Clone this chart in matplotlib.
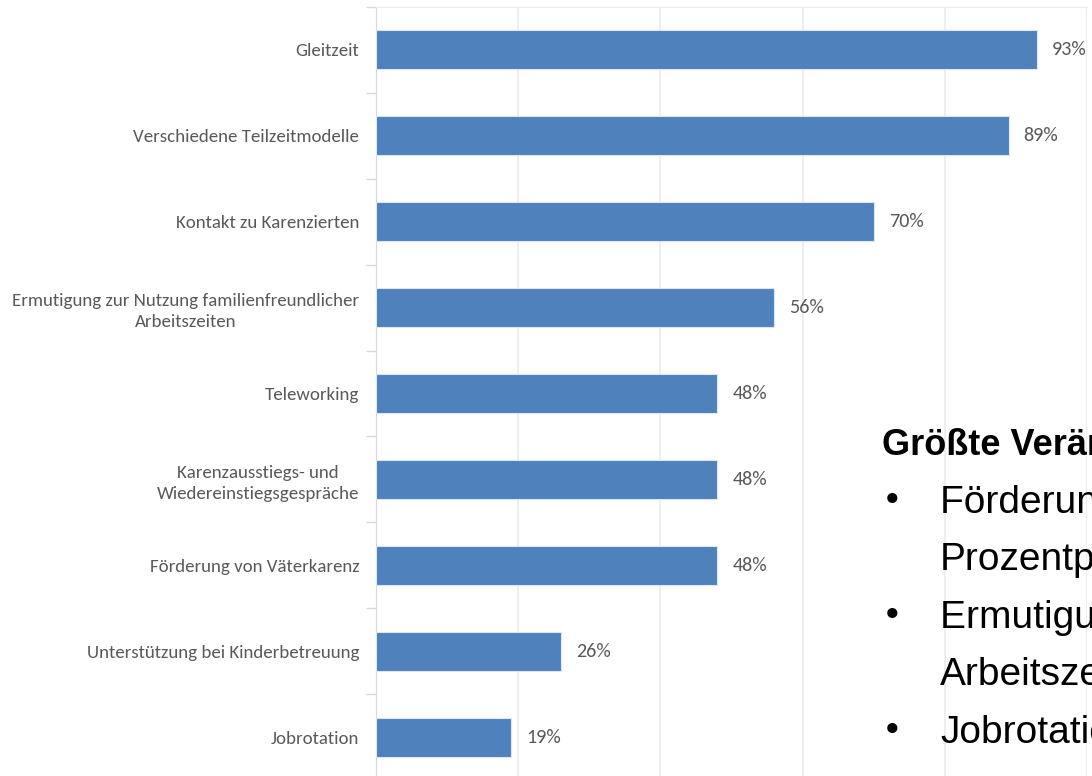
import matplotlib.pyplot as plt
import numpy as np

# Maßnahmen und Anteile (in %)
categories = [
    "Gleitzeit",
    "Verschiedene Teilzeitmodelle",
    "Kontakt zu Karenzierten",
    "Ermutigung zur Nutzung familienfreundlicher\nArbeitszeiten",
    "Teleworking",
    "Karenzausstiegs- und\nWiedereinstiegsgespräche",
    "Förderung von Väterkarenz",
    "Unterstützung bei Kinderbetreuung",
    "Jobrotation",
]
values = [93, 89, 70, 56, 48, 48, 48, 26, 19]

heading = "Größte Veränderungen"
lines = ["Förderung von Väterkarenz", "Prozentpunkte",
         "Ermutigung zur Nutzung", "Arbeitszeiten", "Jobrotation"]
bullet_rows = [0, 2, 4]

bar_color = "#4f81bd"
text_color = "#595959"
grid_color = "#ebebeb"
label_font = ["Carlito", "DejaVu Sans"]
note_font = ["Liberation Sans", "DejaVu Sans"]

fig = plt.figure(figsize=(10.92, 7.76), dpi=100)
ax = fig.add_axes([376 / 1092, -4 / 776, 711 / 1092, 773 / 776])

y = np.arange(len(categories))
ax.barh(y, values, height=0.455, color=bar_color, edgecolor="#dce6f2",
        linewidth=0.8, zorder=3)

for yi, v in zip(y, values):
    ax.text(v + 2.1, yi, f"{v}%", va="center", ha="left",
            fontsize=14.5, color=text_color, family=label_font)

ax.set_xlim(0, 100)
ax.set_ylim(len(categories) - 0.5, -0.5)
ax.set_xticks(np.arange(0, 101, 20))
ax.tick_params(axis="x", length=0, labelbottom=False)
ax.grid(axis="x", color=grid_color, linewidth=1.2, zorder=0)

ax.set_yticks(y)
ax.set_yticklabels(categories, family=label_font, fontsize=13.6,
                   color=text_color, ha="right", multialignment="center",
                   linespacing=1.4)
ax.tick_params(axis="y", which="major", length=0, pad=12)
ax.set_yticks(np.arange(-0.5, len(categories), 1), minor=True)
ax.tick_params(axis="y", which="minor", length=7, color="#d9d9d9", width=1)

for side in ["right", "bottom"]:
    ax.spines[side].set_visible(False)
ax.spines["left"].set_color("#d9d9d9")
ax.spines["top"].set_color(grid_color)

# Textblock rechts, läuft über den Bildrand hinaus
fig.text(882 / 1092, 1 - 455 / 776, heading, fontsize=26, fontweight="bold",
         family=note_font, color="black", va="baseline", ha="left")
line_base = [513, 570, 628, 685, 743]
for i, (ly, line) in enumerate(zip(line_base, lines)):
    if i in bullet_rows:
        fig.text(882 / 1092, 1 - (ly - 2) / 776, "•", fontsize=25,
                 family="DejaVu Sans", color="black", va="baseline", ha="left")
    fig.text(940 / 1092, 1 - ly / 776, line, fontsize=28, family=note_font,
             color="black", va="baseline", ha="left")

fig.savefig("out.png", dpi=100)
